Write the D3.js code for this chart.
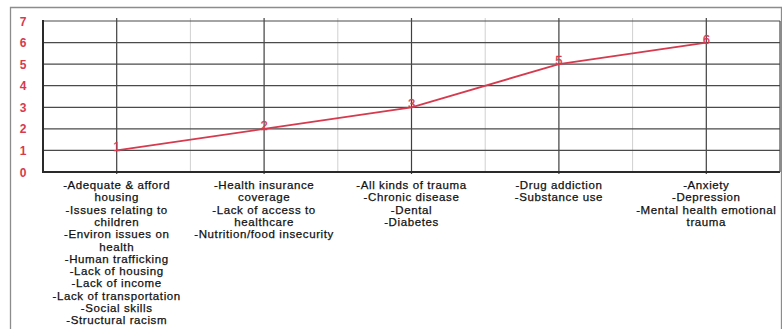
<!DOCTYPE html>
<html>
<head>
<meta charset="utf-8">
<script src="https://cdn.jsdelivr.net/npm/d3@7"></script>
<style>
  body { margin: 0; background: #fff; }
  svg { display: block; }
</style>
</head>
<body>
<div id="chart"></div>
<script>
var w = 782;
var h = 329;

// ranks of the five issue groups
var values = [1, 2, 3, 5, 6];
var yTicks = [0, 1, 2, 3, 4, 5, 6, 7];
var categoryLabels = [
  ["-Adequate & afford", "housing", "-Issues relating to", "children",
   "-Environ issues on", "health", "-Human trafficking", "-Lack of housing",
   "-Lack of income", "-Lack of transportation", "-Social skills", "-Structural racism"],
  ["-Health insurance", "coverage", "-Lack of access to", "healthcare",
   "-Nutrition/food insecurity"],
  ["-All kinds of trauma", "-Chronic disease", "-Dental", "-Diabetes"],
  ["-Drug addiction", "-Substance use"],
  ["-Anxiety", "-Depression", "-Mental health emotional", "trauma"]
];

var red = "#d63a4e";
var plotLeft = 43, plotRight = 780, plotTop = 21, plotBottom = 172;

var xScale = d3.scaleBand()
  .domain(d3.range(values.length))
  .range([plotLeft, plotRight]);

var yScale = d3.scaleLinear()
  .domain([0, 7])
  .range([plotBottom, plotTop]);

var svg = d3.select("#chart").append("svg").attr("width", w).attr("height", h);

// outer frame
svg.append("path")
  .attr("d", "M10.5," + h + "V7.5H781.5V" + h)
  .attr("fill", "none")
  .attr("stroke", "#8c8c8c")
  .attr("stroke-width", 1.3);

// light band boundaries
svg.selectAll("line.minor")
  .data(d3.range(1, values.length))
  .enter()
  .append("line")
  .attr("class", "minor")
  .attr("x1", function (d) { return xScale(d); })
  .attr("x2", function (d) { return xScale(d); })
  .attr("y1", plotTop - 3)
  .attr("y2", plotBottom)
  .attr("stroke", "#d0d0d0");

// dark lines at category centres
svg.selectAll("line.major")
  .data(d3.range(values.length))
  .enter()
  .append("line")
  .attr("class", "major")
  .attr("x1", function (d) { return xScale(d) + xScale.bandwidth() / 2; })
  .attr("x2", function (d) { return xScale(d) + xScale.bandwidth() / 2; })
  .attr("y1", plotTop - 3)
  .attr("y2", plotBottom + 2)
  .attr("stroke", "#3f3f3f")
  .attr("stroke-width", 1.2);

// horizontal grid
svg.selectAll("line.hgrid")
  .data(yTicks)
  .enter()
  .append("line")
  .attr("class", "hgrid")
  .attr("x1", plotLeft)
  .attr("x2", plotRight)
  .attr("y1", function (d) { return yScale(d); })
  .attr("y2", function (d) { return yScale(d); })
  .attr("stroke", function (d) { return d === 0 ? "#2a2a2a" : "#4a4a4a"; })
  .attr("stroke-width", function (d) { return d === 0 ? 1.8 : 1.2; });

// right border of plot
svg.append("line")
  .attr("x1", plotRight).attr("x2", plotRight)
  .attr("y1", plotTop).attr("y2", plotBottom)
  .attr("stroke", "#4a4a4a").attr("stroke-width", 1.2);

// y axis line
svg.append("line")
  .attr("x1", plotLeft).attr("x2", plotLeft)
  .attr("y1", plotTop - 1).attr("y2", plotBottom + 1)
  .attr("stroke", "#2a2a2a").attr("stroke-width", 2);

// y tick labels
svg.selectAll("text.ytick")
  .data(yTicks)
  .enter()
  .append("text")
  .attr("class", "ytick")
  .attr("x", 23)
  .attr("y", function (d) { return yScale(d) + 4.5; })
  .attr("text-anchor", "middle")
  .attr("font-family", "Liberation Sans, Arial, sans-serif")
  .attr("font-weight", "bold")
  .attr("font-size", 12)
  .attr("fill", red)
  .text(function (d) { return d; });

var line = d3.line()
  .x(function (d, i) { return xScale(i) + xScale.bandwidth() / 2; })
  .y(function (d) { return yScale(d); });

svg.append("path")
  .datum(values)
  .attr("d", line)
  .attr("fill", "none")
  .attr("stroke", red)
  .attr("stroke-width", 1.8);

// point labels
svg.selectAll("text.plabel")
  .data(values)
  .enter()
  .append("text")
  .attr("class", "plabel")
  .attr("x", function (d, i) { return xScale(i) + xScale.bandwidth() / 2; })
  .attr("y", function (d) { return yScale(d) + 1; })
  .attr("text-anchor", "middle")
  .attr("font-family", "Liberation Sans, Arial, sans-serif")
  .attr("font-size", 13)
  .attr("fill", red)
  .attr("stroke", red)
  .attr("stroke-width", 0.3)
  .text(function (d) { return d; });

// category labels
var cat = svg.selectAll("text.cat")
  .data(categoryLabels)
  .enter()
  .append("text")
  .attr("class", "cat")
  .attr("text-anchor", "middle")
  .attr("font-family", "Liberation Sans, Arial, sans-serif")
  .attr("font-size", 11.5)
  .attr("letter-spacing", 0.6)
  .attr("fill", "#111")
  .attr("stroke", "#111")
  .attr("stroke-width", 0.25);

cat.selectAll("tspan")
  .data(function (d, i) {
    return d.map(function (s) { return { s: s, i: i }; });
  })
  .enter()
  .append("tspan")
  .attr("x", function (d) { return xScale(d.i) + xScale.bandwidth() / 2; })
  .attr("y", function (d, j) { return 189 + j * 12.3; })
  .text(function (d) { return d.s; });
</script>
</body>
</html>
